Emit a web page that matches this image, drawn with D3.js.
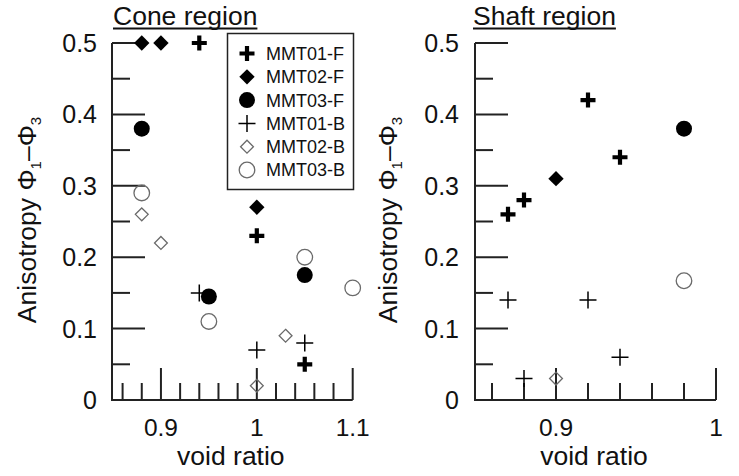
<!DOCTYPE html>
<html><head><meta charset="utf-8">
<script src="https://cdn.jsdelivr.net/npm/d3@7"></script>
<style>body{margin:0;background:#fff}svg{display:block}text{font-family:"Liberation Sans",Arial,sans-serif;fill:#111}</style>
</head><body>
<svg id="c" width="739" height="476"></svg>
<script>
// ---- data ----
const seriesNames = ["MMT01-F","MMT02-F","MMT03-F","MMT01-B","MMT02-B","MMT03-B"];
// Cone region [void ratio, anisotropy]
const cone_MMT01F = [[0.94,0.50],[1.00,0.23],[1.05,0.05]];
const cone_MMT02F = [[0.88,0.50],[0.90,0.50],[1.00,0.27]];
const cone_MMT03F = [[0.88,0.38],[0.95,0.145],[1.05,0.175]];
const cone_MMT01B = [[0.94,0.15],[1.00,0.07],[1.05,0.08]];
const cone_MMT02B = [[0.88,0.26],[0.90,0.22],[1.00,0.02],[1.03,0.09]];
const cone_MMT03B = [[0.88,0.29],[0.95,0.11],[1.05,0.20],[1.10,0.157]];
// Shaft region
const shaft_MMT01F = [[0.87,0.26],[0.88,0.28],[0.92,0.42],[0.94,0.34]];
const shaft_MMT02F = [[0.90,0.31]];
const shaft_MMT03F = [[0.98,0.38]];
const shaft_MMT01B = [[0.87,0.14],[0.88,0.03],[0.92,0.14],[0.94,0.06]];
const shaft_MMT02B = [[0.90,0.03]];
const shaft_MMT03B = [[0.98,0.167]];
const coneXTicks = [0.9,1,1.1];
const shaftXTicks = [0.9,1];
const yTicks = [0,0.1,0.2,0.3,0.4,0.5];
const coneXDomain = [0.85,1.1];
const shaftXDomain = [0.85,1.0];
const yDomain = [0,0.5];

const svg = d3.select("#c");
const FONT = 25;
const BIG = 26.5;

function marker(g, type, x, y){
  const grey = "#6a6a6a";
  if(type===0){ // thick plus
    g.append("path").attr("d",`M${x-7.5},${y}H${x+7.5}M${x},${y-7.5}V${y+7.5}`)
     .attr("stroke","#000").attr("stroke-width",4.2).attr("fill","none");
  } else if(type===1){ // filled diamond
    g.append("path").attr("d",d3.symbol(d3.symbolDiamond2,150)()).attr("transform",`translate(${x},${y})`)
     .attr("fill","#000");
  } else if(type===2){ // filled circle
    g.append("circle").attr("cx",x).attr("cy",y).attr("r",8).attr("fill","#000");
  } else if(type===3){ // thin plus
    g.append("path").attr("d",`M${x-8.5},${y}H${x+8.5}M${x},${y-8.5}V${y+8.5}`)
     .attr("stroke","#000").attr("stroke-width",1.5).attr("fill","none");
  } else if(type===4){ // open diamond
    g.append("path").attr("d",d3.symbol(d3.symbolDiamond2,105)()).attr("transform",`translate(${x},${y})`)
     .attr("fill","none").attr("stroke",grey).attr("stroke-width",1.3);
  } else { // open circle
    g.append("circle").attr("cx",x).attr("cy",y).attr("r",7.8).attr("fill","none").attr("stroke",grey).attr("stroke-width",1.3);
  }
}

function panel(opts){
  const {x0,x1,xDomain,xTicks,title,series,labelRight,ylabelX,titleX} = opts;
  const xs = d3.scaleLinear().domain(xDomain).range([x0,x1]);
  const ys = d3.scaleLinear().domain(yDomain).range([400,43]);
  const g = svg.append("g");
  const ax = "#222";
  g.append("path").attr("d",`M${x0-1},${ys(0.5)}V${ys(0)}H${x1}`).attr("fill","none").attr("stroke",ax).attr("stroke-width",2);
  const yMinor = d3.range(0.05,0.5,0.1);
  yTicks.filter(d=>d>0).forEach(d=>{
    g.append("line").attr("x1",x0-1).attr("x2",x0+32).attr("y1",ys(d)).attr("y2",ys(d)).attr("stroke",ax).attr("stroke-width",2);
  });
  yMinor.forEach(d=>{
    g.append("line").attr("x1",x0-1).attr("x2",x0+17).attr("y1",ys(d)).attr("y2",ys(d)).attr("stroke",ax).attr("stroke-width",2);
  });
  const xMinor = d3.range(Math.round(xDomain[0]*100)+1, Math.round(xDomain[1]*100)+1, 2).map(v=>v/100)
    .filter(v=>!xTicks.some(t=>Math.abs(t-v)<1e-6));
  xMinor.forEach(d=>{
    g.append("line").attr("x1",xs(d)).attr("x2",xs(d)).attr("y1",ys(0)).attr("y2",ys(0)-17).attr("stroke",ax).attr("stroke-width",2);
  });
  xTicks.forEach(d=>{
    g.append("line").attr("x1",xs(d)).attr("x2",xs(d)).attr("y1",ys(0)).attr("y2",ys(0)-32).attr("stroke",ax).attr("stroke-width",2);
  });
  yTicks.forEach(d=>{
    g.append("text").attr("x",labelRight).attr("y",ys(d)).attr("dy","0.36em").attr("text-anchor","end")
      .attr("font-size",FONT).text(d3.format("")(d));
  });
  xTicks.forEach(d=>{
    g.append("text").attr("x",xs(d)).attr("y",436).attr("text-anchor","middle").attr("font-size",24.5).text(d3.format("")(d));
  });
  g.append("text").attr("x",(x0+x1)/2 - 2).attr("y",465).attr("text-anchor","middle").attr("font-size",BIG).text("void ratio");
  const yl = g.append("text").attr("transform",`translate(${ylabelX},220) rotate(-90)`).attr("text-anchor","middle").attr("font-size",BIG);
  yl.append("tspan").text("Anisotropy \u03A6");
  yl.append("tspan").attr("font-size",15).attr("dy",5).text("1");
  yl.append("tspan").attr("dy",-5).text("\u2013\u03A6");
  yl.append("tspan").attr("font-size",15).attr("dy",5).text("3");
  const t = g.append("text").attr("x",titleX).attr("y",25).attr("font-size",BIG).text(title);
  const w = t.node().getComputedTextLength();
  g.append("line").attr("x1",titleX).attr("x2",titleX+w).attr("y1",28.5).attr("y2",28.5).attr("stroke","#111").attr("stroke-width",1.8);
  series.forEach((pts,i)=>{
    pts.forEach(p=>marker(g,i,xs(p[0]),ys(p[1])));
  });
  return g;
}

panel({x0:113,x1:352.7,xDomain:coneXDomain,xTicks:coneXTicks,title:"Cone region",titleX:113,labelRight:97,ylabelX:36,
  series:[cone_MMT01F,cone_MMT02F,cone_MMT03F,cone_MMT01B,cone_MMT02B,cone_MMT03B]});
panel({x0:476,x1:716,xDomain:shaftXDomain,xTicks:shaftXTicks,title:"Shaft region",titleX:473,labelRight:459,ylabelX:397,
  series:[shaft_MMT01F,shaft_MMT02F,shaft_MMT03F,shaft_MMT01B,shaft_MMT02B,shaft_MMT03B]});

const lg = svg.append("g");
lg.append("rect").attr("x",227.5).attr("y",33.5).attr("width",126).attr("height",156).attr("fill","#fff").attr("stroke","#222").attr("stroke-width",1.5);
seriesNames.forEach((n,i)=>{
  const y = 53.5 + i*23.3;
  marker(lg,i,247,y);
  lg.append("text").attr("x",266).attr("y",y).attr("dy","0.36em").attr("font-size",18).text(n);
});
</script>
</body></html>
